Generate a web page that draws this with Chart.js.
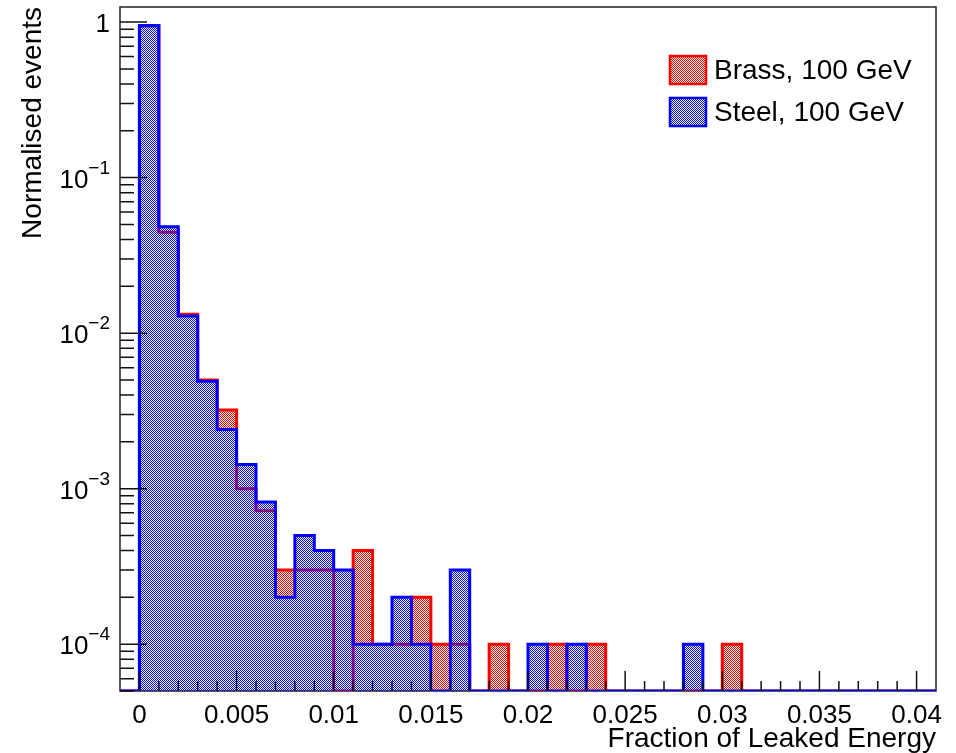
<!DOCTYPE html>
<html>
<head>
<meta charset="utf-8">
<title>Fraction of Leaked Energy</title>
<script src="https://cdn.jsdelivr.net/npm/chart.js@4.4.1/dist/chart.umd.min.js"></script>
<style>
  html, body { margin: 0; padding: 0; background: #fff; }
  #wrap { width: 956px; height: 753px; }
</style>
</head>
<body>
<div id="wrap"><canvas id="leakChart" width="956" height="753"></canvas></div>
<script>
// bin edges of the histograms (width 0.001)
var binEdges = [-0.001, 0, 0.001, 0.002, 0.003, 0.004, 0.005, 0.006, 0.007, 0.008,
                0.009, 0.010, 0.011, 0.012, 0.013, 0.014, 0.015, 0.016, 0.017, 0.018,
                0.019, 0.020, 0.021, 0.022, 0.023, 0.024, 0.025, 0.026, 0.027, 0.028,
                0.029, 0.030, 0.031, 0.032, 0.033, 0.034, 0.035, 0.036, 0.037, 0.038,
                0.039, 0.040, 0.041];

// normalised events per bin (0 = empty bin)
var brassValues = [0, 0.945, 0.0445, 0.0132, 0.0050, 0.0032, 0.0010, 0.00072, 0.0003, 0.0003,
                   0.0003, 0, 0.0004, 0.0001, 0.0001, 0.0002, 0.0001, 0.0001, 0, 0.0001,
                   0, 0, 0.0001, 0, 0.0001, 0, 0, 0, 0, 0,
                   0, 0.0001, 0, 0, 0, 0, 0, 0, 0, 0,
                   0, 0];
var steelValues = [0, 0.952, 0.0483, 0.0129, 0.0049, 0.0024, 0.00143, 0.00082, 0.0002, 0.0005,
                   0.0004, 0.0003, 0.0001, 0.0001, 0.0002, 0.0001, 0, 0.0003, 0, 0,
                   0, 0.0001, 0, 0.0001, 0, 0, 0, 0, 0, 0.0001,
                   0, 0, 0, 0, 0, 0, 0, 0, 0, 0,
                   0, 0];

var xTickValues = [0, 0.005, 0.01, 0.015, 0.02, 0.025, 0.03, 0.035, 0.04];
var xTickLabels = ['0', '0.005', '0.01', '0.015', '0.02', '0.025', '0.03', '0.035', '0.04'];
var yTickValues = [1e-4, 1e-3, 1e-2, 1e-1, 1];
var yTickBases = ['10', '10', '10', '10', '1'];
var yTickExps = ['\u22124', '\u22123', '\u22122', '\u22121', ''];

var xMin = -0.001, xMax = 0.041;
var yMin = 5e-5, yMax = 1.25;

// empty bins sit on the bottom of the frame, like ROOT does on a log axis
function histPoints(values) {
    var pts = values.map(function (v, i) { return { x: binEdges[i], y: v > 0 ? v : yMin }; });
    var last = values[values.length - 1];
    pts.push({ x: binEdges[values.length], y: last > 0 ? last : yMin });
    return pts;
}

// ROOT-like dotted fill (checker of single pixels)
function dotPattern(color) {
    var c = document.createElement('canvas');
    c.width = 2; c.height = 2;
    var g = c.getContext('2d');
    g.fillStyle = color;
    g.fillRect(0, 0, 1, 1);
    g.fillRect(1, 1, 1, 1);
    return g.createPattern(c, 'repeat');
}

var rootStyle = {
    id: 'rootStyle',
    beforeDatasetsDraw: function (chart) {
        var a = chart.chartArea, ctx = chart.ctx;
        ctx.save();
        ctx.strokeStyle = '#222';
        ctx.lineWidth = 1.5;
        ctx.strokeRect(a.left, a.top, a.right - a.left, a.bottom - a.top);
        ctx.restore();
    },
    afterDatasetsDraw: function (chart) {
        var a = chart.chartArea, ctx = chart.ctx;
        var xs = chart.scales.x, ys = chart.scales.y;
        ctx.save();
        ctx.strokeStyle = '#111';
        ctx.lineWidth = 1.5;
        ctx.beginPath();
        for (var i = 0; i <= 40; i++) {
            var px = xs.getPixelForValue(i / 1000);
            var len = (i % 5 === 0) ? 20 : 10;
            ctx.moveTo(px, a.bottom);
            ctx.lineTo(px, a.bottom - len);
        }
        for (var e = -5; e <= 0; e++) {
            for (var k = 1; k <= 9; k++) {
                var v = k * Math.pow(10, e);
                if (v < yMin || v > yMax) continue;
                var py = ys.getPixelForValue(v);
                ctx.moveTo(a.left, py);
                ctx.lineTo(a.left + (k === 1 ? 27 : 14), py);
            }
        }
        ctx.stroke();

        // y tick labels with real superscripts
        ctx.fillStyle = '#000';
        ctx.textAlign = 'right';
        ctx.textBaseline = 'middle';
        var right = a.left - 10;
        yTickValues.forEach(function (v, i) {
            var py = ys.getPixelForValue(v);
            ctx.font = '19px "Liberation Sans", Arial, sans-serif';
            var ew = yTickExps[i] ? ctx.measureText(yTickExps[i]).width : 0;
            if (yTickExps[i]) ctx.fillText(yTickExps[i], right, py - 9);
            ctx.font = '26px "Liberation Sans", Arial, sans-serif';
            ctx.fillText(yTickBases[i], right - ew, py + 3);
        });
        ctx.restore();
    },
    afterDraw: function (chart) {
        var ctx = chart.ctx;
        var items = [chart.data.datasets[1], chart.data.datasets[0]];
        ctx.save();
        ctx.font = '28px "Liberation Sans", Arial, sans-serif';
        ctx.textBaseline = 'middle';
        items.forEach(function (ds, i) {
            var top = 56 + i * 42;
            ctx.fillStyle = ds.backgroundColor;
            ctx.fillRect(670, top, 36, 28);
            ctx.strokeStyle = ds.borderColor;
            ctx.lineWidth = 2.5;
            ctx.strokeRect(670, top, 36, 28);
            ctx.fillStyle = '#000';
            ctx.fillText(ds.label, 714, top + 15);
        });
        ctx.restore();
    }
};

Chart.defaults.font.family = '"Liberation Sans", Arial, sans-serif';
Chart.defaults.color = '#000';

var canvas = document.getElementById('leakChart');
var leakChart = new Chart(canvas, {
    type: 'line',
    data: {
        datasets: [
            {
                label: 'Steel, 100 GeV',
                data: histPoints(steelValues),
                borderColor: '#0000ff',
                backgroundColor: dotPattern('#0000ff'),
                borderWidth: 3,
                stepped: 'before',
                fill: 'start',
                pointRadius: 0,
                order: 0
            },
            {
                label: 'Brass, 100 GeV',
                data: histPoints(brassValues),
                borderColor: '#ff0000',
                backgroundColor: dotPattern('#ff0000'),
                borderWidth: 3,
                stepped: 'before',
                fill: 'start',
                pointRadius: 0,
                order: 1
            }
        ]
    },
    options: {
        responsive: false,
        devicePixelRatio: 1,
        animation: false,
        layout: { padding: { top: 7, right: 20, left: 0, bottom: 0 } },
        plugins: {
            legend: { display: false },
            tooltip: { enabled: false }
        },
        scales: {
            x: {
                type: 'linear',
                min: xMin,
                max: xMax,
                afterBuildTicks: function (s) {
                    s.ticks = xTickValues.map(function (v) { return { value: v }; });
                },
                afterFit: function (s) { s.height = 62; },
                ticks: {
                    autoSkip: false,
                    maxRotation: 0,
                    padding: 9,
                    font: { size: 26 },
                    callback: function (v, i) { return xTickLabels[i]; }
                },
                grid: { display: false, drawTicks: false },
                border: { display: false },
                title: {
                    display: true,
                    text: 'Fraction of Leaked Energy',
                    align: 'end',
                    font: { size: 28, lineHeight: 1 },
                    padding: 0
                }
            },
            y: {
                type: 'logarithmic',
                min: yMin,
                max: yMax,
                afterBuildTicks: function (s) {
                    s.ticks = yTickValues.map(function (v) { return { value: v }; });
                },
                afterFit: function (s) { s.width = 120; },
                ticks: { display: false },
                grid: { display: false, drawTicks: false },
                border: { display: false },
                title: {
                    display: true,
                    text: 'Normalised events',
                    align: 'end',
                    font: { size: 28 },
                    padding: { top: 16, bottom: 0 }
                }
            }
        }
    },
    plugins: [rootStyle]
});
</script>
</body>
</html>
